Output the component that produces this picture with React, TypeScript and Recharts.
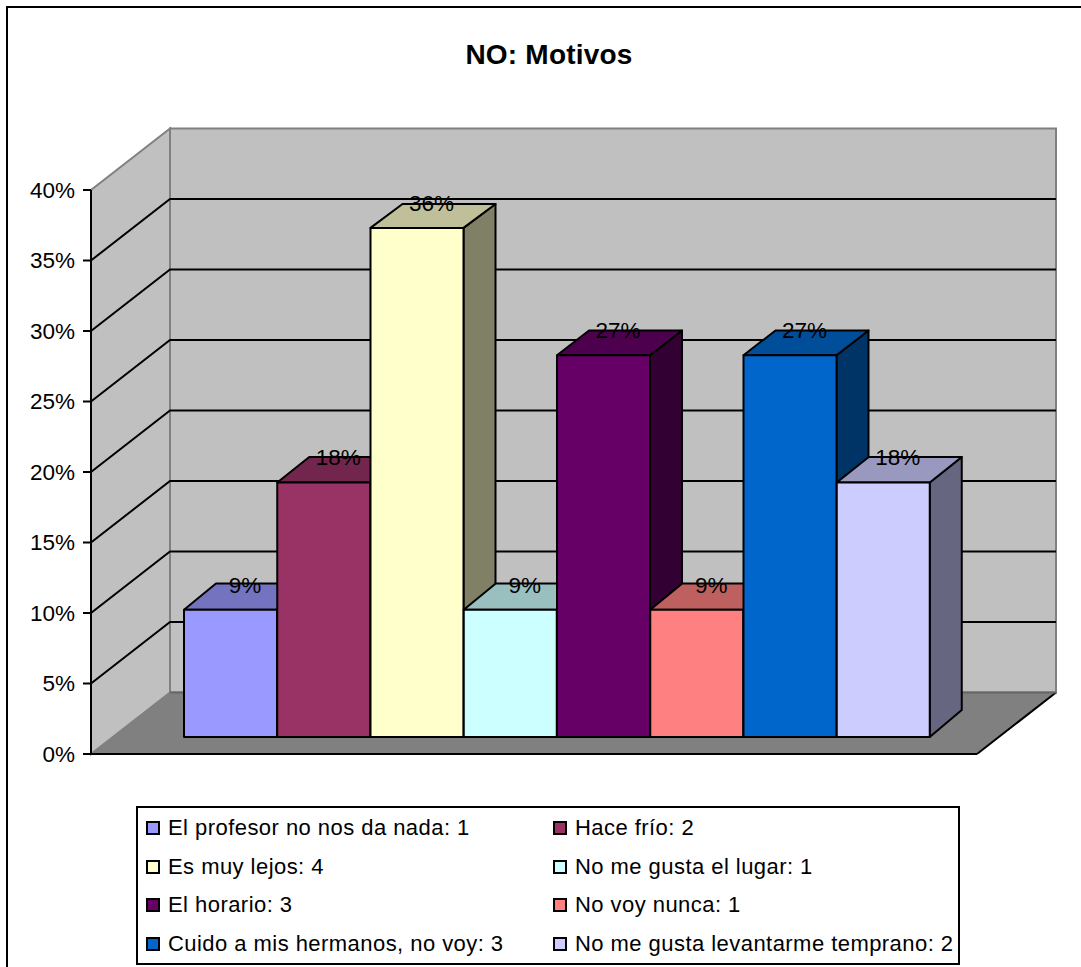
import { BarChart, Bar, XAxis, YAxis, CartesianGrid, LabelList, Legend } from "recharts"

const categories = [
  "El profesor no nos da nada: 1",
  "Hace frío: 2",
  "Es muy lejos: 4",
  "No me gusta el lugar: 1",
  "El horario: 3",
  "No voy nunca: 1",
  "Cuido a mis hermanos, no voy: 3",
  "No me gusta levantarme temprano: 2",
]
const percents = [9.09, 18.18, 36.36, 9.09, 27.27, 9.09, 27.27, 18.18]
const barColors = ["#9999FF", "#993366", "#FFFFCC", "#CCFFFF", "#660066", "#FF8080", "#0066CC", "#CCCCFF"]
const yTicks = [0, 5, 10, 15, 20, 25, 30, 35, 40]

const data = categories.map((name, i) => ({ name, value: percents[i] }))

const FONT = "'Liberation Sans', Arial, sans-serif"
// oblique offset of the back wall from the front axis plane
const WALL_DX = 79
const WALL_DY = 61.5
// bars stand a little in from the front edge of the floor
const BAR_LIFT = 17
const BAR_DX = 32
const BAR_DY = 27

function shade(hex: string, f: number) {
  const n = parseInt(hex.slice(1), 16)
  const c = [(n >> 16) & 255, (n >> 8) & 255, n & 255].map(v => Math.round(v * f))
  return `rgb(${c[0]},${c[1]},${c[2]})`
}

function Walls({ x, y, width, height }: any) {
  const bottom = y + height
  const right = x + width
  const bx = x + WALL_DX
  const backBottom = bottom - WALL_DY
  const backTop = y - WALL_DY
  return (
    <g>
      <polygon points={`${bx},${backTop} ${right + WALL_DX},${backTop} ${right + WALL_DX},${backBottom} ${bx},${backBottom}`} fill="#C0C0C0" stroke="#808080" strokeWidth={2} />
      <polygon points={`${x},${y} ${bx},${backTop} ${bx},${backBottom} ${x},${bottom}`} fill="#C0C0C0" stroke="#808080" strokeWidth={2} />
      <polygon points={`${x},${bottom} ${bx},${backBottom} ${right + WALL_DX},${backBottom} ${right},${bottom}`} fill="#808080" />
      <line x1={right} y1={bottom} x2={right + WALL_DX} y2={backBottom} stroke="#000" strokeWidth={2} />
      <line x1={bx} y1={backBottom} x2={right + WALL_DX} y2={backBottom} stroke="#666" strokeWidth={2} />
      {/* the axis lines sit under the grid layer, so repeat them over the walls */}
      <polyline points={`${x},${y} ${x},${bottom} ${right},${bottom}`} fill="none" stroke="#000" strokeWidth={2} />
    </g>
  )
}

// the grid draws first, so the walls go in with its first line
function GridLine(props: any) {
  const { x1, x2, y1, index } = props
  if (index === 0) return <Walls key={props.key} x={props.x} y={props.y} width={props.width} height={props.height} />
  if (index === yTicks.length - 1) return <g key={props.key} />
  return (
    <polyline
      key={props.key}
      points={`${x1},${y1} ${x1 + WALL_DX},${y1 - WALL_DY} ${x2 + WALL_DX},${y1 - WALL_DY}`}
      fill="none"
      stroke="#000"
      strokeWidth={2}
    />
  )
}

function Bar3D(props: any) {
  const { x, y, width, height, index } = props
  const fill = barColors[index]
  const base = y + height - BAR_LIFT
  const h = height * 0.993
  const top = base - h
  const backBase = base - BAR_DY
  const backTop = backBase - h * 0.994
  const r = x + width
  return (
    <g stroke="#000" strokeWidth={2} strokeLinejoin="round">
      <polygon points={`${r},${top} ${r + BAR_DX},${backTop} ${r + BAR_DX},${backBase} ${r},${base}`} fill={shade(fill, 0.5)} />
      <polygon points={`${x},${top} ${x + BAR_DX},${backTop} ${r + BAR_DX},${backTop} ${r},${top}`} fill={shade(fill, 0.75)} />
      <rect x={x} y={top} width={width} height={h} fill={fill} />
    </g>
  )
}

function BarLabel(props: any) {
  const { x, y, width, height, value } = props
  const base = y + height - BAR_LIFT
  const top = base - height * 0.993
  return (
    <text x={x + width / 2 + 14.5} y={top - 17} textAnchor="middle" fontSize={22.5} fontFamily={FONT} fill="#000">
      {`${Math.round(value)}%`}
    </text>
  )
}

function LegendBox() {
  return (
    <div
      style={{
        boxSizing: "border-box",
        width: 824,
        height: 159,
        border: "2px solid #000",
        background: "#fff",
        paddingLeft: 8,
        paddingTop: 1,
        display: "grid",
        gridTemplateColumns: "407px auto",
        gridAutoRows: "38.5px",
        fontFamily: FONT,
        fontSize: 22,
        letterSpacing: 0.45,
        color: "#000",
      }}
    >
      {categories.map((name, i) => (
        <div key={name} style={{ display: "flex", alignItems: "center", whiteSpace: "nowrap" }}>
          <span
            style={{
              boxSizing: "border-box",
              width: 14,
              height: 14,
              border: "2px solid #000",
              background: barColors[i],
              marginRight: 8,
              flex: "none",
            }}
          />
          {name}
        </div>
      ))}
    </div>
  )
}

export default function App() {
  return (
    <div style={{ position: "absolute", left: 0, top: 0, width: 1081, height: 967, overflow: "hidden", background: "#fff" }}>
      <div style={{ position: "absolute", left: 6, top: 6, width: 1200, height: 1200, border: "2px solid #000" }} />
      <div
        style={{
          position: "absolute",
          left: 0,
          top: 38,
          width: 1098,
          textAlign: "center",
          fontFamily: FONT,
          fontWeight: "bold",
          fontSize: 28,
          letterSpacing: 0.2,
          lineHeight: "34px",
        }}
      >
        NO: Motivos
      </div>
      <div style={{ position: "absolute", left: 0, top: 0 }}>
        <BarChart
          width={1081}
          height={967}
          data={data}
          barCategoryGap={0}
          margin={{ top: 190, right: 104, bottom: 213, left: 21 }}
        >
          <CartesianGrid horizontal={GridLine} vertical={false} stroke="#000" />
          <XAxis
            dataKey="name"
            tick={false}
            tickLine={false}
            height={0}
            padding={{ left: 93, right: 47 }}
            axisLine={{ stroke: "#000", strokeWidth: 2 }}
          />
          <YAxis
            width={70}
            domain={[0, 40]}
            ticks={yTicks}
            interval={0}
            tickFormatter={v => `${v}%`}
            tick={{ fontSize: 22.5, fontFamily: FONT, fill: "#000" }}
            axisLine={{ stroke: "#000", strokeWidth: 2 }}
            tickLine={{ stroke: "#000", strokeWidth: 2 }}
            tickSize={8}
            tickMargin={8}
          />
          <Bar dataKey="value" isAnimationActive={false} shape={Bar3D}>
            <LabelList dataKey="value" content={BarLabel} />
          </Bar>
          <Legend
            layout="horizontal"
            align="center"
            verticalAlign="middle"
            content={LegendBox}
            wrapperStyle={{ left: 136, top: 806, width: 824, height: 159, bottom: "auto" }}
          />
        </BarChart>
      </div>
    </div>
  )
}
